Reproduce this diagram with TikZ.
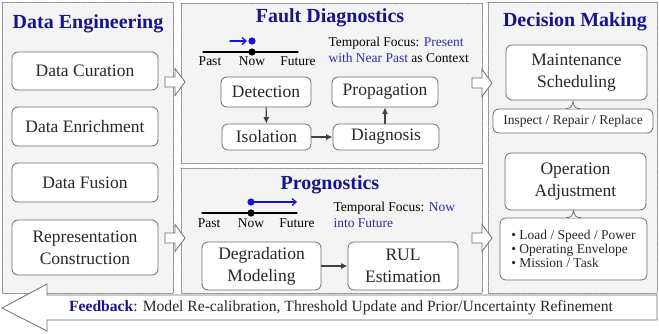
\documentclass[tikz,border=0pt]{standalone}
\usepackage{fontspec}
\setmainfont{Liberation Serif}
\usetikzlibrary{arrows.meta}

\definecolor{titleblue}{RGB}{22,22,140}
\definecolor{focusblue}{RGB}{45,45,165}
\definecolor{arrowblue}{RGB}{20,20,210}
\definecolor{boxgray}{RGB}{110,110,110}
\definecolor{panelfill}{RGB}{244,244,244}
\definecolor{dotgray}{RGB}{140,140,140}
\definecolor{linkgray}{RGB}{64,64,64}
\definecolor{textgray}{RGB}{40,40,40}

\newcommand{\titlefont}{\fontsize{20}{22}\selectfont\bfseries}
\newcommand{\boxfont}{\fontsize{17.5}{22}\selectfont}
\newcommand{\smallfont}{\fontsize{13.5}{16}\selectfont}

\tikzset{
  panel/.style={draw=dotgray, fill=panelfill, line width=0.8pt, dash pattern=on 0.8pt off 1pt},
  ptitle/.style={text=titleblue, font=\titlefont},
  box/.style={draw=boxgray, fill=white, rounded corners=6pt, line width=0.8pt,
    align=center, font=\boxfont, text=textgray, inner sep=0pt},
  link/.style={-{Latex[length=6.5pt,width=6pt]}, draw=linkgray, line width=1.1pt},
  hollow/.style={draw=boxgray, fill=white, line width=0.8pt, line join=miter},
  tline/.style={line width=1.3pt, black},
}

% hollow block arrow pointing right, tail at (#1,#2)
\newcommand{\blockarrow}[2]{%
  \draw[hollow] (#1,#2-5) -- ++(10,0) -- ++(0,-8.5) -- ++(10,13.5)
    -- ++(-10,13.5) -- ++(0,-8.5) -- ++(-10,0) -- cycle;}

\begin{document}
\begin{tikzpicture}[x=1pt, y=-1pt, line cap=round]
\useasboundingbox (0,0) rectangle (659,333);

% ---------- panels ----------
\draw[panel] (2,2) rectangle (173,293);
\draw[panel] (181,3) rectangle (482,163);
\draw[panel] (181,168) rectangle (482,293);
\draw[panel] (488,2) rectangle (657,293);

\node[ptitle] (tde) at (88,24) {Data Engineering};
\node[ptitle] (tfd) at (330,18) {Fault Diagnostics};
\node[ptitle] (tpr) at (330,185) {Prognostics};
\node[ptitle] (tdm) at (575,22) {Decision Making};

% ---------- data engineering ----------
\node[box, minimum width=146pt, minimum height=38pt] (cur) at (85,71) {Data Curation};
\node[box, minimum width=146pt, minimum height=39pt] (enr) at (85,126.5) {Data Enrichment};
\node[box, minimum width=146pt, minimum height=39pt] (fus) at (85,182.5) {Data Fusion};
\node[box, minimum width=146pt, minimum height=55pt] (rep) at (85,247.5) {Representation\\Construction};

% ---------- fault diagnostics ----------
\coordinate (fpast) at (203,52);
\coordinate (fnow) at (252,52);
\coordinate (ffut) at (298,52);
\coordinate (fblue) at (252,41);
\coordinate (fstart) at (230,41);
\draw[tline] (fpast) -- (ffut);
\fill (fnow) circle (3.6pt);
\fill[arrowblue] (fblue) circle (3.6pt);
\draw[-{Straight Barb[length=4pt,width=7pt]}, arrowblue, line width=1.3pt] (fstart) -- ([xshift=-5pt]fblue);
\node[font=\smallfont] at (210,61) {Past};
\node[font=\smallfont] at (252,61) {Now};
\node[font=\smallfont] at (298,61) {Future};
\node[font=\smallfont, anchor=west, align=left] (ffoc) at (325,50)
  {Temporal Focus: \textcolor{focusblue}{Present}\\
   \textcolor{focusblue}{with Near Past} as Context};

\node[box, minimum width=90pt, minimum height=30pt] (det) at (266,92) {Detection};
\node[box, minimum width=106pt, minimum height=30pt] (prop) at (385,92) {Propagation};
\node[box, minimum width=89pt, minimum height=26pt] (iso) at (266.5,137) {Isolation};
\node[box, minimum width=106pt, minimum height=26pt] (diag) at (386,137) {Diagnosis};

\draw[link] (det) -- (iso);
\draw[link] (iso) -- (diag);
\draw[link] (diag.north -| prop.south) -- (prop.south);

% ---------- prognostics ----------
\coordinate (ppast) at (202,213);
\coordinate (pnow) at (251,213);
\coordinate (pfut) at (297,213);
\coordinate (pblue) at (251,202);
\coordinate (pend) at (297,202);
\draw[tline] (ppast) -- (pfut);
\fill (pnow) circle (3.6pt);
\fill[arrowblue] (pblue) circle (3.6pt);
\draw[-{Straight Barb[length=4pt,width=7pt]}, arrowblue, line width=1.3pt] (pblue) -- (pend);
\node[font=\smallfont] at (209,223) {Past};
\node[font=\smallfont] at (251,223) {Now};
\node[font=\smallfont] at (297,223) {Future};
\node[font=\smallfont, anchor=west, align=left] (pfoc) at (330,215)
  {Temporal Focus: \textcolor{focusblue}{Now}\\
   \textcolor{focusblue}{into Future}};

\node[box, minimum width=119pt, minimum height=48pt] (deg) at (261.5,266) {Degradation\\Modeling};
\node[box, minimum width=110pt, minimum height=48pt] (rul) at (403,266) {RUL\\Estimation};
\draw[link] (deg) -- (rul);

% ---------- decision making ----------
\node[box, minimum width=141pt, minimum height=55pt] (mnt) at (576.5,72.5) {Maintenance\\Scheduling};
\node[box, minimum width=160pt, minimum height=24pt, font=\smallfont] (irr) at (573,121) {Inspect / Repair / Replace};
\node[box, minimum width=141pt, minimum height=57pt] (opa) at (575.5,181.5) {Operation\\Adjustment};
\node[box, minimum width=147pt, minimum height=62pt, font=\fontsize{13.5}{14}\selectfont, align=left] (opl) at (573.5,249)
  {\textbullet\ Load / Speed / Power\\
   \textbullet\ Operating Envelope\\
   \textbullet\ Mission / Task};

% brace tips on the lower boxes
\draw[draw=boxgray, line width=0.8pt, fill=white]
  ([xshift=-7pt]irr.north) .. controls ([xshift=-2pt]irr.north) and ([xshift=-1pt,yshift=2pt]irr.north) .. ([yshift=7pt]irr.north)
  .. controls ([xshift=1pt,yshift=2pt]irr.north) and ([xshift=2pt]irr.north) .. ([xshift=7pt]irr.north);
\draw[draw=boxgray, line width=0.8pt, fill=white]
  ([xshift=-7pt]opl.north) .. controls ([xshift=-2pt]opl.north) and ([xshift=-1pt,yshift=2pt]opl.north) .. ([yshift=7pt]opl.north)
  .. controls ([xshift=1pt,yshift=2pt]opl.north) and ([xshift=2pt]opl.north) .. ([xshift=7pt]opl.north);

% ---------- block arrows between panels ----------
\blockarrow{165}{82}
\blockarrow{165}{238}
\blockarrow{472}{83}
\blockarrow{472}{238}

% ---------- feedback ----------
\draw[hollow] (2,308) -- (47,284) -- (47,295) -- (657,295) -- (657,320)
  -- (47,320) -- (47,331) -- cycle;
\node[font=\fontsize{15.6}{18}\selectfont, text=textgray] (fb) at (341,308)
  {\textcolor{titleblue}{\textbf{Feedback}}: Model Re-calibration, Threshold Update and Prior/Uncertainty Refinement};

\end{tikzpicture}
\end{document}
